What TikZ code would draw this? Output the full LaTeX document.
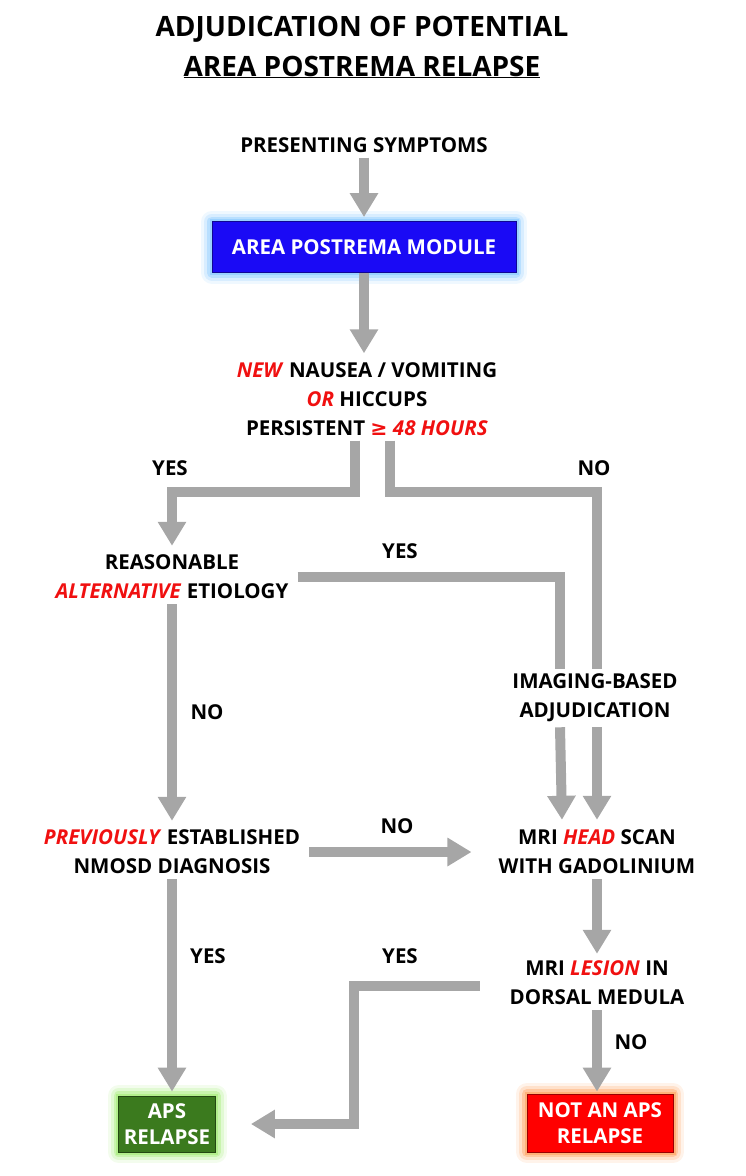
\documentclass[tikz,border=0pt]{standalone}
\usepackage{fontspec}
\setmainfont{Open Sans}
\newfontfamily\symfont{DejaVu Sans}
\usepackage{xcolor}
\usetikzlibrary{arrows.meta}
\definecolor{flowgray}{HTML}{A6A6A6}
\definecolor{apblue}{HTML}{1A0AF5}
\definecolor{apgreen}{HTML}{3B7A1E}
\definecolor{apred}{HTML}{FF0000}
\definecolor{hlred}{HTML}{F01010}
\definecolor{blueglow}{HTML}{7CC4FF}
\definecolor{greenglow}{HTML}{9BEA6A}
\definecolor{redglow}{HTML}{FF9A50}
\newcommand{\hl}[1]{\textcolor{hlred}{\textit{#1}}}
\tikzset{
  glow/.style={
    preaction={draw=#1, line width=22pt, opacity=.12, line join=round},
    preaction={draw=#1, line width=16pt, opacity=.2, line join=round},
    preaction={draw=#1, line width=10pt, opacity=.35, line join=round},
    preaction={draw=#1, line width=5pt, opacity=.5}
  },
  flow/.style={draw=flowgray, line width=10pt,
    -{Triangle[width=27pt,length=24pt]}},
  line/.style={draw=flowgray, line width=10pt},
  outbox/.style={draw=#1!60!black, line width=0.8pt, text=white, inner sep=4pt}
}

\begin{document}
\begin{tikzpicture}[x=1pt, y=-1pt,
  every node/.style={font=\bfseries\fontsize{20.5}{29}\selectfont, align=center, inner sep=5pt}]
\useasboundingbox (0,0) rectangle (746,1176);
\node[font=\bfseries\fontsize{28}{40}\selectfont] at (362,47) (title)
  {ADJUDICATION OF POTENTIAL\\\underline{AREA POSTREMA RELAPSE}};
\node at (364,145) (sym) {PRESENTING SYMPTOMS};
\node[outbox=apblue, fill=apblue, glow=blueglow, minimum width=304pt, minimum height=51pt]
  at (364,247) (apm) {AREA POSTREMA MODULE};
\node at (367,399) (crit) {\hl{NEW} NAUSEA / VOMITING\\\hl{OR} HICCUPS\\
  PERSISTENT {\color{hlred}{\symfont\bfseries ≥} \textit{48 HOURS}}};
\node at (172,577) (alt) {REASONABLE\\\hl{ALTERNATIVE} ETIOLOGY};
\node at (595,698) (img) {IMAGING-BASED\\ADJUDICATION};
\node at (172,852) (prev) {\hl{PREVIOUSLY} ESTABLISHED\\NMOSD DIAGNOSIS};
\node at (597,852) (mri) {MRI \hl{HEAD} SCAN\\WITH GADOLINIUM};
\node at (597,983) (lesion) {MRI \hl{LESION} IN\\DORSAL MEDULA};
\node[outbox=apgreen, fill=apgreen, glow=greenglow, minimum width=97pt, minimum height=56pt]
  at (167,1124) (aps) {APS\\[-3pt]RELAPSE};
\node[outbox=apred, fill=apred, glow=redglow, minimum width=146pt, minimum height=58pt]
  at (600,1123) (notaps) {NOT AN APS\\[-3pt]RELAPSE};
% answers
\node at (170,468) (y1) {YES};
\node at (594,468) (n1) {NO};
\node at (400,551) (y2) {YES};
\node at (207,712) (n2) {NO};
\node at (397,826) (n3) {NO};
\node at (208,956) (y3) {YES};
\node at (400,956) (y4) {YES};
\node at (631,1042) (n4) {NO};
\coordinate (ybend) at (172,492);
\coordinate (nbend) at (597,492);
\coordinate (lbend) at (354,1000);
\draw[flow, shorten >=4pt] (sym) -- (apm);
\draw[flow, shorten >=4pt] (apm) -- (crit.north -| apm);
\draw[flow] ([xshift=-12pt]crit.south) |- (ybend) -- ([yshift=4pt]alt.north);
\draw[line] ([xshift=23pt]crit.south) |- (nbend) -- (nbend |- img.north);
\draw[line] ([xshift=4pt]alt.east) -| ([xshift=-35pt]img.north);
\draw[flow] ([xshift=-35pt]img.south) -- ([xshift=-35pt,yshift=5pt]mri.north);
\draw[flow] (img.south -| mri) -- ([yshift=5pt]mri.north);
\draw[flow] (alt) -- ([yshift=4pt]prev.north);
\draw[flow, shorten <=4pt, shorten >=22pt] (prev.east) -- (mri.west);
\draw[flow, shorten >=2pt] (mri) -- (lesion.north);
\draw[flow] ([yshift=-3pt,xshift=-25pt]lesion.west) -| (lbend) |- ([xshift=35pt]aps.east);
\draw[flow, shorten >=2pt] (lesion.south) -- (lesion.south |- notaps.north);
\draw[flow, shorten >=4pt] (prev.south) -- (prev.south |- aps.north);
\end{tikzpicture}
\end{document}
